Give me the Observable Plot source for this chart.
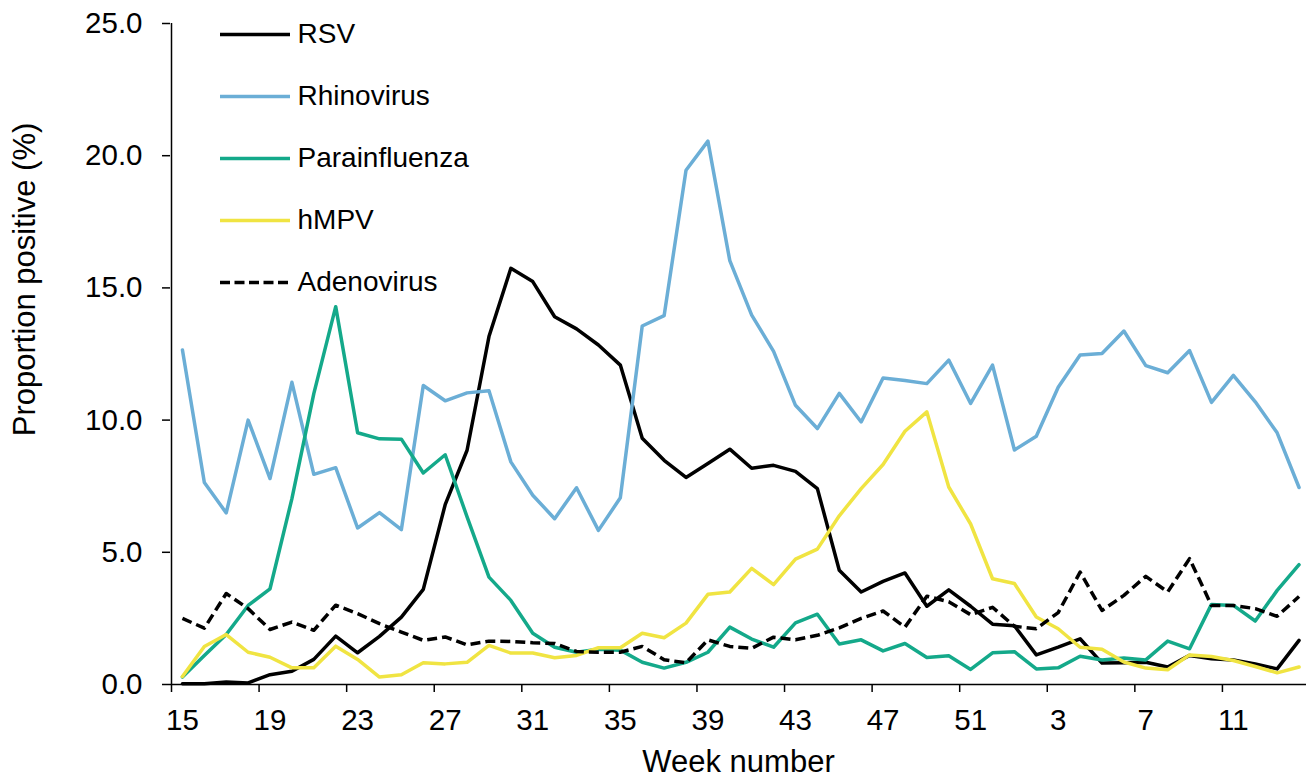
<!DOCTYPE html>
<html><head><meta charset="utf-8">
<script src="https://cdn.jsdelivr.net/npm/d3@7"></script>
<script src="https://cdn.jsdelivr.net/npm/@observablehq/plot@0.6"></script>
<style>
body{margin:0;background:#fff;}
#wrap{position:relative;width:1306px;height:778px;overflow:hidden;font-family:"Liberation Sans",Arial,sans-serif;}
#legend{position:absolute;left:0;top:0;pointer-events:none;}
</style></head><body><div id="wrap"><div id="chart"></div><div id="legend"></div></div>
<script>
const weeks = [15,16,17,18,19,20,21,22,23,24,25,26,27,28,29,30,31,32,33,34,35,36,37,38,39,40,41,42,43,44,45,46,47,48,49,50,51,52,1,2,3,4,5,6,7,8,9,10,11,12,13,14];
const tickWeeks = [15,19,23,27,31,35,39,43,47,51,3,7,11];
const yTicks = [0,5,10,15,20,25];
const seriesNames = ["RSV","Rhinovirus","Parainfluenza","hMPV","Adenovirus"];
const seriesColors = ["#000000","#6BAED6","#14A98A","#F0E442","#000000"];
const seriesDash = [null,null,null,null,"10,5"];
const yTitle = "Proportion positive (%)";
const xTitle = "Week number";

const rsv = [0.03,0.03,0.09,0.06,0.37,0.5,0.95,1.83,1.2,1.82,2.55,3.6,6.8,
  8.86,13.16,15.74,15.24,13.91,13.45,12.84,12.08,9.31,8.48,7.83,8.36,8.9,
  8.18,8.29,8.06,7.41,4.32,3.5,3.9,4.22,2.96,3.58,2.96,2.28,2.22,
  1.12,1.41,1.73,0.81,0.82,0.84,0.66,1.1,0.97,0.93,0.78,0.59,1.67];
const rhinovirus = [12.65,7.64,6.49,10.0,7.79,11.43,7.95,8.2,5.92,6.5,5.86,11.31,10.73,
  11.03,11.11,8.42,7.16,6.27,7.44,5.83,7.06,13.56,13.95,19.45,20.55,16.03,
  13.97,12.6,10.56,9.68,11.01,9.93,11.59,11.5,11.38,12.27,10.63,12.08,8.87,
  9.39,11.24,12.46,12.52,13.37,12.06,11.79,12.63,10.67,11.69,10.69,9.52,7.45];
const parainfluenza = [0.28,1.1,1.89,2.99,3.62,7.03,11.0,14.29,9.52,9.29,9.28,8.0,8.69,
  6.34,4.06,3.18,1.94,1.41,1.22,1.33,1.3,0.84,0.62,0.84,1.22,2.17,
  1.72,1.41,2.33,2.66,1.53,1.69,1.27,1.55,1.02,1.09,0.57,1.2,1.24,
  0.59,0.63,1.07,0.93,1.0,0.93,1.64,1.35,3.03,2.99,2.4,3.56,4.53];
const hmpv = [0.3,1.44,1.89,1.22,1.03,0.63,0.63,1.45,0.95,0.28,0.37,0.82,0.78,
  0.84,1.48,1.19,1.19,1.01,1.1,1.39,1.39,1.94,1.77,2.32,3.41,3.5,
  4.39,3.78,4.74,5.12,6.38,7.41,8.32,9.58,10.31,7.47,6.07,4.0,3.82,
  2.55,2.11,1.41,1.33,0.85,0.62,0.56,1.12,1.06,0.91,0.68,0.44,0.66];
const adenovirus = [2.5,2.13,3.44,2.87,2.08,2.36,2.05,3.0,2.68,2.3,1.98,1.67,1.8,
  1.5,1.64,1.63,1.58,1.55,1.25,1.22,1.22,1.44,0.94,0.82,1.69,1.44,
  1.37,1.79,1.69,1.86,2.14,2.5,2.78,2.17,3.34,3.13,2.64,2.92,2.2,
  2.11,2.72,4.25,2.8,3.37,4.09,3.5,4.76,2.99,2.99,2.87,2.58,3.33];

const allSeries = [rsv, rhinovirus, parainfluenza, hmpv, adenovirus];
const rows = [];
allSeries.forEach((vals, s) => vals.forEach((v, i) => rows.push({series: seriesNames[s], i, week: weeks[i], v})));

const labelIdx = tickWeeks.map(w => weeks.indexOf(w));
const boundaryIdx = labelIdx.map(i => i - 0.5);
const font = '"Liberation Sans", Arial, sans-serif';

const lineMarks = seriesNames.map((name, s) => Plot.lineY(rows.filter(r => r.series === name), {
  x: "i", y: "v", stroke: seriesColors[s], strokeWidth: 3.5,
  strokeDasharray: seriesDash[s] || undefined,
  strokeLinecap: seriesDash[s] ? "butt" : "round", strokeLinejoin: "round"
}));

const chart = Plot.plot({
  width: 1306, height: 778,
  marginLeft: 170, marginRight: 0, marginTop: 23, marginBottom: 94,
  style: {fontFamily: font, color: "#000", background: "white", overflow: "visible"},
  x: {type: "linear", domain: [-0.5, weeks.length - 0.5], range: [171, 1309.5]},
  y: {domain: [0, 25]},
  marks: [
    Plot.ruleY([0], {stroke: "#000", strokeWidth: 1.5}),
    Plot.ruleX([-0.5], {stroke: "#000", strokeWidth: 1.5}),
    Plot.axisY({ticks: yTicks, tickFormat: d3.format(".1f"), tickSize: 8, tickPadding: 20, fontSize: 29.5, label: null, stroke: "#000", fill: "#000", strokeWidth: 1.5}),
    Plot.axisX({ticks: boundaryIdx, tickSize: 8, fill: "none", stroke: "#000", strokeWidth: 1.5, label: null}),
    Plot.axisX({ticks: labelIdx, tickSize: 0, tickPadding: 25, tickFormat: i => String(weeks[i]), fontSize: 29.5, fill: "#000", label: null}),
    ...lineMarks,
    Plot.text([yTitle], {frameAnchor: "left", textAnchor: "middle", rotate: -90, dx: -136, dy: -74.5, lineAnchor: "bottom", fontSize: 31, fill: "#000"}),
    Plot.text([xTitle], {frameAnchor: "bottom", textAnchor: "middle", dy: 87, lineAnchor: "bottom", fontSize: 31, fill: "#000"})
  ]
});
document.getElementById("chart").appendChild(chart);

const legend = Plot.plot({
  width: 500, height: 320,
  marginLeft: 220, marginRight: 210, marginTop: 0, marginBottom: 0,
  style: {fontFamily: font, color: "#000", background: "transparent", overflow: "visible"},
  y: {type: "point", domain: seriesNames, range: [32, 283], padding: 0, axis: null},
  marks: [
    ...seriesNames.map((n, s) => Plot.ruleY([n], {stroke: seriesColors[s], strokeWidth: 3.5,
      strokeDasharray: seriesDash[s] ? "10,4.5" : undefined, strokeLinecap: "butt"})),
    Plot.text(seriesNames, {y: d => d, frameAnchor: "right", dx: 7, textAnchor: "start", lineAnchor: "middle", fontSize: 28, fill: "#000"})
  ]
});
document.getElementById("legend").appendChild(legend);
</script>
</body></html>
